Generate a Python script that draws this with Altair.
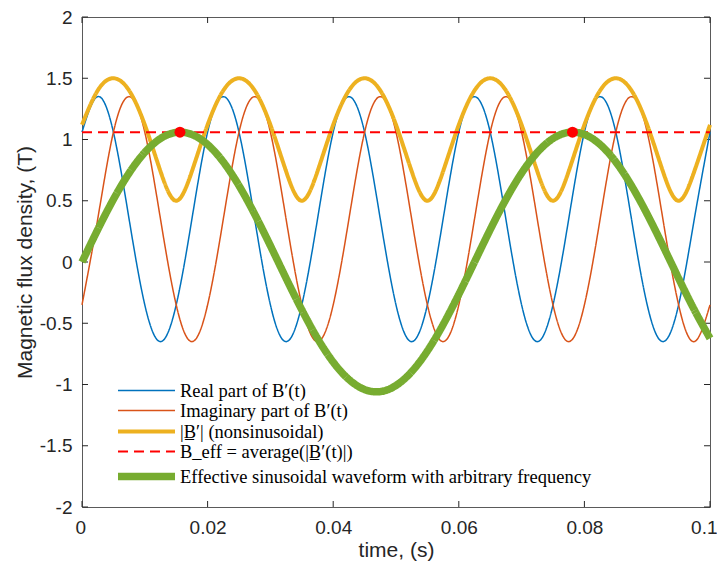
import altair as alt
import pandas as pd

# time samples (s)
t = [0.0, 0.0025, 0.005, 0.0075, 0.01, 0.0125, 0.015, 0.0175, 0.02, 0.0225,
     0.025, 0.0275, 0.03, 0.0325, 0.035, 0.0375, 0.04, 0.0425, 0.045, 0.0475,
     0.05, 0.0525, 0.055, 0.0575, 0.06, 0.0625, 0.065, 0.0675, 0.07, 0.0725,
     0.075, 0.0775, 0.08, 0.0825, 0.085, 0.0875, 0.09, 0.0925, 0.095, 0.0975, 0.1]

real_part = [1.06, 1.35, 1.06, 0.35, -0.35, -0.65, -0.35, 0.35,
             1.06, 1.35, 1.06, 0.35, -0.35, -0.65, -0.35, 0.35,
             1.06, 1.35, 1.06, 0.35, -0.35, -0.65, -0.35, 0.35,
             1.06, 1.35, 1.06, 0.35, -0.35, -0.65, -0.35, 0.35,
             1.06, 1.35, 1.06, 0.35, -0.35, -0.65, -0.35, 0.35,
             1.06]

imag_part = [-0.35, 0.35, 1.06, 1.35, 1.06, 0.35, -0.35, -0.65,
             -0.35, 0.35, 1.06, 1.35, 1.06, 0.35, -0.35, -0.65,
             -0.35, 0.35, 1.06, 1.35, 1.06, 0.35, -0.35, -0.65,
             -0.35, 0.35, 1.06, 1.35, 1.06, 0.35, -0.35, -0.65,
             -0.35, 0.35, 1.06, 1.35, 1.06, 0.35, -0.35, -0.65,
             -0.35]

magnitude = [1.12, 1.40, 1.50, 1.40, 1.12, 0.74, 0.50, 0.74,
             1.12, 1.40, 1.50, 1.40, 1.12, 0.74, 0.50, 0.74,
             1.12, 1.40, 1.50, 1.40, 1.12, 0.74, 0.50, 0.74,
             1.12, 1.40, 1.50, 1.40, 1.12, 0.74, 0.50, 0.74,
             1.12, 1.40, 1.50, 1.40, 1.12, 0.74, 0.50, 0.74,
             1.12]

effective = [0.0, 0.264, 0.511, 0.726, 0.895, 1.008, 1.058, 1.041, 0.959, 0.817,
             0.623, 0.390, 0.133, -0.133, -0.390, -0.623, -0.817, -0.959, -1.041, -1.058,
             -1.008, -0.895, -0.726, -0.511, -0.264, 0.0, 0.264, 0.511, 0.726, 0.895,
             1.008, 1.058, 1.041, 0.959, 0.817, 0.623, 0.390, 0.133, -0.133, -0.390,
             -0.623]

beff_t = [0.0, 0.1]
beff_level = [1.06, 1.06]

peak_t = [0.0156, 0.0781]
peak_v = [1.06, 1.06]

x_ticks = [0, 0.02, 0.04, 0.06, 0.08, 0.1]
y_ticks = [-2, -1.5, -1, -0.5, 0, 0.5, 1, 1.5, 2]

names = ["Real part of B′(t)",
         "Imaginary part of B′(t)",
         "|B̲′| (nonsinusoidal)",
         "B_eff = average(|B̲′(t)|)",
         "Effective sinusoidal waveform with arbitrary frequency"]
colors = ["#0072BD", "#D95319", "#EDB120", "#FF0000", "#77AC30"]
widths = [1.5, 1.5, 4, 2, 7.5]
dashes = [[1, 0], [1, 0], [1, 0], [10, 6], [1, 0]]

series_vals = [real_part, imag_part, magnitude, None, effective]
rows = []
for name, vals in zip(names, series_vals):
    if vals is None:
        for tt, vv in zip(beff_t, beff_level):
            rows.append({"series": name, "t": tt, "v": vv})
    else:
        for tt, vv in zip(t, vals):
            rows.append({"series": name, "t": tt, "v": vv})
df = pd.DataFrame(rows)

peaks = pd.DataFrame({"t": peak_t, "v": peak_v})
xt = pd.DataFrame({"t": x_ticks})
yt = pd.DataFrame({"v": y_ticks})

W, H = 628, 490
AX = "#262626"
BOX = "#5a5a5a"

xscale = alt.Scale(domain=[0, 0.1], nice=False, zero=False)
yscale = alt.Scale(domain=[-2, 2], nice=False, zero=False)

legend = alt.Legend(title=None, orient="none", legendX=51, legendY=363,
                    symbolType="M-3,0H3", symbolSize=361,
                    labelFont="Liberation Serif", labelFontSize=18.5,
                    labelColor="black", labelOffset=20, rowPadding=0,
                    padding=0, labelLimit=700)

x_axis = alt.Axis(values=x_ticks, labelExpr="toString(datum.value)",
                  domain=False, ticks=False, tickSize=0, grid=False,
                  labelFont="Liberation Sans", labelFontSize=19, labelColor=AX,
                  labelPadding=11, labelFlush=True, labelFlushOffset=7,
                  title="time, (s)", titleFont="Liberation Sans",
                  titleFontSize=21, titleFontWeight="normal", titleColor=AX,
                  titleBaseline="alphabetic", titleY=49)
y_axis = alt.Axis(values=y_ticks, labelExpr="toString(datum.value)",
                  domain=False, ticks=False, tickSize=0, grid=False,
                  labelFont="Liberation Sans", labelFontSize=19, labelColor=AX,
                  labelPadding=10, title="Magnetic flux density, (T)",
                  titleFont="Liberation Sans", titleFontSize=21,
                  titleFontWeight="normal", titleColor=AX, titlePadding=4,
                  labelFlush=False)

X = alt.X("t:Q", scale=xscale, axis=x_axis)
Y = alt.Y("v:Q", scale=yscale, axis=y_axis)

color = alt.Color("series:N", scale=alt.Scale(domain=names, range=colors), legend=legend)
sdash = alt.StrokeDash("series:N", scale=alt.Scale(domain=names, range=dashes), legend=legend)
swidth = alt.StrokeWidth("series:N", scale=alt.Scale(type="ordinal", domain=names, range=widths), legend=legend)

base = alt.Chart(df)
layers = []
for i, name in enumerate(names):
    layer = base.transform_filter(alt.datum.series == name).mark_line(
        interpolate="natural" if i != 3 else "linear"
    ).encode(
        x=X, y=Y,
        color=color,
        strokeDash=sdash,
        strokeWidth=swidth,
    )
    layers.append(layer)

dots = alt.Chart(peaks).mark_circle(size=120, color="#FF0000", opacity=1).encode(x=X, y=Y)

tick_style = dict(color=AX, strokeWidth=1)
xb = alt.Chart(xt).mark_rule(**tick_style).encode(
    x=X, y=alt.value(H), y2=alt.value(H - 6))
xtop = alt.Chart(xt).mark_rule(**tick_style).encode(
    x=X, y=alt.value(0), y2=alt.value(6))
yl = alt.Chart(yt).mark_rule(**tick_style).encode(
    y=Y, x=alt.value(0), x2=alt.value(6))
yr = alt.Chart(yt).mark_rule(**tick_style).encode(
    y=Y, x=alt.value(W), x2=alt.value(W - 6))

chart = alt.layer(xb, xtop, yl, yr, *layers, dots).properties(
    width=W, height=H,
    autosize=alt.AutoSizeParams(type="none"),
    padding={"left": 74, "top": 9, "right": 7, "bottom": 54},
    background="white",
).configure_view(stroke=BOX, strokeWidth=1)

chart.save("out.html", embed_options={"renderer": "svg", "actions": False})
